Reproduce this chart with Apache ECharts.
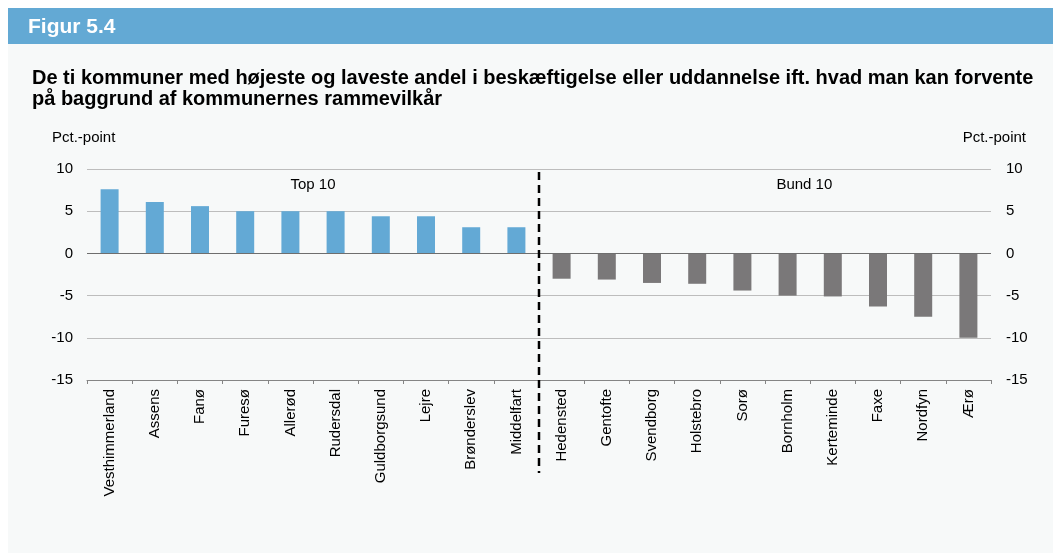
<!DOCTYPE html>
<html>
<head>
<meta charset="utf-8">
<script src="https://cdn.jsdelivr.net/npm/echarts@6/dist/echarts.min.js"></script>
<style>
html,body{margin:0;padding:0;background:#ffffff;}
#chart{width:1053px;height:553px;}
</style>
</head>
<body>
<div id="chart"></div>
<script>
var categories = ["Vesthimmerland","Assens","Fanø","Furesø","Allerød","Rudersdal","Guldborgsund","Lejre","Brønderslev","Middelfart",
                  "Hedensted","Gentofte","Svendborg","Holstebro","Sorø","Bornholm","Kerteminde","Faxe","Nordfyn","Ærø"];
var topValues = [7.6, 6.1, 5.6, 5.0, 5.0, 5.0, 4.4, 4.4, 3.1, 3.1];
var bottomValues = [-3.0, -3.1, -3.5, -3.6, -4.4, -5.0, -5.1, -6.3, -7.5, -10.0];
var yTicks = {min: -15, max: 10, interval: 5};
var headerText = "Figur 5.4";
var titleText = "De ti kommuner med højeste og laveste andel i beskæftigelse eller uddannelse ift. hvad man kan forvente\npå baggrund af kommunernes rammevilkår";
var unitText = "Pct.-point";
var groupLabels = ["Top 10", "Bund 10"];

var FONT = "'Liberation Sans', Arial, Helvetica, sans-serif";
var BLUE = "#63a9d5";
var GREY = "#7a7879";

var topSeries = categories.map(function(c, i){ return i < topValues.length ? topValues[i] : '-'; });
var bottomSeries = categories.map(function(c, i){ return i >= topValues.length ? bottomValues[i - topValues.length] : '-'; });

var chart = echarts.init(document.getElementById('chart'), null, {renderer: 'canvas'});

var option = {
  animation: false,
  backgroundColor: '#ffffff',
  textStyle: {fontFamily: FONT},
  title: {
    text: titleText,
    left: 27, top: 63,
    textStyle: {fontFamily: FONT, fontSize: 20, fontWeight: 'bold', color: '#000', lineHeight: 21}
  },
  grid: {left: 87, right: 62, top: 169, bottom: 173, containLabel: false},
  xAxis: {
    type: 'category',
    data: categories,
    position: 'bottom',
    axisLine: {onZero: false, lineStyle: {color: '#858585', width: 1}},
    axisTick: {show: true, length: 4, lineStyle: {color: '#858585'}},
    axisLabel: {rotate: 90, interval: 0, margin: 9, fontSize: 15, color: '#000', fontFamily: FONT},
    splitLine: {show: false}
  },
  yAxis: [
    {
      type: 'value', min: yTicks.min, max: yTicks.max, interval: yTicks.interval, position: 'left',
      axisLine: {show: false}, axisTick: {show: false},
      axisLabel: {margin: 14, fontSize: 15, color: '#000', fontFamily: FONT},
      splitLine: {lineStyle: {color: '#bdbdbd', width: 1}}
    },
    {
      type: 'value', min: yTicks.min, max: yTicks.max, interval: yTicks.interval, position: 'right',
      axisLine: {show: false}, axisTick: {show: false},
      axisLabel: {margin: 15, fontSize: 15, color: '#000', fontFamily: FONT},
      splitLine: {show: false}
    }
  ],
  series: [
    {
      name: 'Top 10', type: 'bar', data: topSeries, barWidth: 18, barGap: '-100%',
      itemStyle: {color: BLUE},
      markLine: {
        silent: true, symbol: 'none', label: {show: false},
        lineStyle: {color: '#6e6e6e', width: 1, type: 'solid'},
        data: [{yAxis: 0}]
      }
    },
    {
      name: 'Bund 10', type: 'bar', data: bottomSeries, barWidth: 18, barGap: '-100%',
      itemStyle: {color: GREY}
    }
  ]
};
chart.setOption(option);

function px(idx, val){ return chart.convertToPixel({xAxisIndex: 0, yAxisIndex: 0}, [idx, val]); }
var p9 = px(9, 0), p10 = px(10, 0);
var sepX = (p9[0] + p10[0]) / 2;
var step = p10[0] - p9[0];
var yTop = px(0, 10)[1];
var yAxisBottom = px(0, -15)[1];
var topLabelPos = px(4, 8.1);
var bundLabelPos = px(15, 8.1);

chart.setOption({
  graphic: [
    {type: 'rect', z: -10, shape: {x: 8, y: 44, width: 1045, height: 509}, style: {fill: '#f7f9f9'}},
    {type: 'rect', z: -5, shape: {x: 8, y: 8, width: 1045, height: 36}, style: {fill: '#63a9d4'}},
    {type: 'text', x: 28, y: 27, style: {text: headerText, fill: '#ffffff', font: 'bold 21px ' + FONT, textVerticalAlign: 'middle'}},
    {type: 'text', x: 52, y: 138, style: {text: unitText, fill: '#000', font: '15px ' + FONT, textVerticalAlign: 'middle'}},
    {type: 'text', x: 1026, y: 138, style: {text: unitText, fill: '#000', font: '15px ' + FONT, textAlign: 'right', textVerticalAlign: 'middle'}},
    {type: 'text', x: topLabelPos[0] + step / 2, y: topLabelPos[1], style: {text: groupLabels[0], fill: '#000', font: '15px ' + FONT, textAlign: 'center', textVerticalAlign: 'middle'}},
    {type: 'text', x: bundLabelPos[0] + step * 0.37, y: bundLabelPos[1], style: {text: groupLabels[1], fill: '#000', font: '15px ' + FONT, textAlign: 'center', textVerticalAlign: 'middle'}},
    {type: 'line', z: 10, shape: {x1: sepX, y1: yTop + 3, x2: sepX, y2: yAxisBottom + 93},
     style: {stroke: '#000', lineWidth: 2.5, lineDash: [8, 5]}}
  ]
});
</script>
</body>
</html>
